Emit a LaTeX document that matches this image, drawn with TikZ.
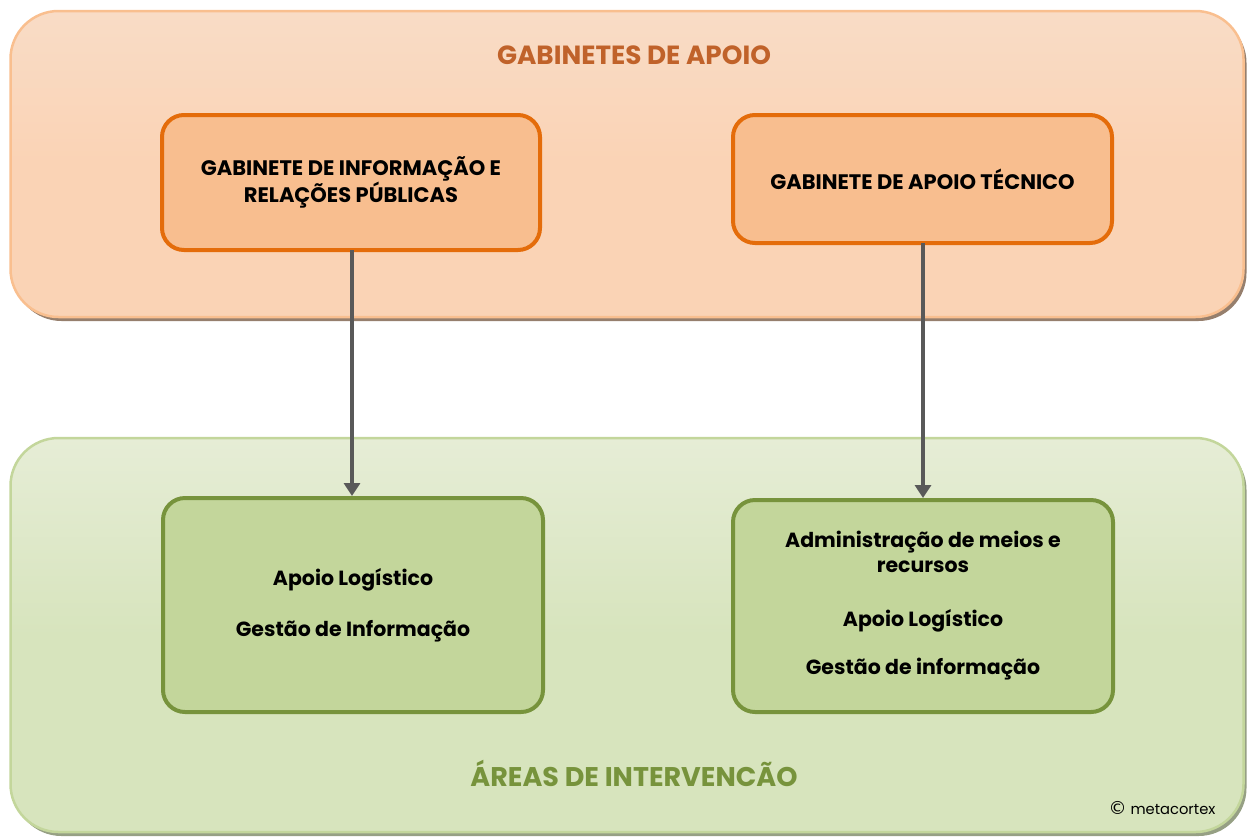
\documentclass[tikz,border=0pt]{standalone}
\usepackage{fontspec}
\setmainfont{Poppins}
\newfontfamily\symfont{DejaVu Sans}
\usetikzlibrary{arrows.meta,shadows}
\definecolor{peachbg}{HTML}{FAD3B5}
\definecolor{peachtop}{HTML}{F9DCC6}
\definecolor{peachline}{HTML}{F9BF8F}
\definecolor{orangefill}{HTML}{F8BE8F}
\definecolor{orangeline}{HTML}{E46C0A}
\definecolor{greenbg}{HTML}{D7E4BD}
\definecolor{greentop}{HTML}{E6EDD6}
\definecolor{greenline}{HTML}{C3D69B}
\definecolor{greenfill}{HTML}{C3D69B}
\definecolor{greendark}{HTML}{77933C}
\definecolor{titleorange}{HTML}{C0622A}
\definecolor{arrowgray}{HTML}{595959}
\tikzset{
  bigpanel/.style={rectangle, rounded corners=48pt, line width=2.5pt, inner sep=0pt},
  orangebox/.style={rectangle, rounded corners=22pt, draw=orangeline, fill=orangefill, line width=4pt, inner sep=0pt, align=center, font=\bfseries\fontsize{21}{24}\selectfont},
  greenbox/.style={rectangle, rounded corners=22pt, draw=greendark, fill=greenfill, line width=4pt, inner sep=0pt, align=center, font=\bfseries\fontsize{20.5}{25}\selectfont},
  conn/.style={draw=arrowgray, line width=4pt, -{Triangle[length=13pt,width=16pt]}},
}
\begin{document}
\begin{tikzpicture}[x=1pt,y=-1pt]
\useasboundingbox (0,0) rectangle (1247,839);
% top panel
\node[bigpanel, draw=peachline, top color=peachtop, bottom color=peachbg, middle color=peachbg,
      drop shadow={shadow xshift=3pt, shadow yshift=-4pt, fill=black!40!peachbg, opacity=1},
      minimum width=1233pt, minimum height=306pt] (top) at (627,164) {};
% bottom panel
\node[bigpanel, draw=greenline, top color=greentop, bottom color=greenbg, middle color=greenbg,
      drop shadow={shadow xshift=3pt, shadow yshift=-4pt, fill=black!30!greenbg, opacity=1},
      minimum width=1233pt, minimum height=394pt] (bottom) at (627,635) {};
% titles
\node[font=\bfseries\fontsize{26.3}{28}\selectfont, text=titleorange] (title1) at (634,55) {GABINETES DE APOIO};
\node[font=\bfseries\fontsize{27}{30}\selectfont, text=greendark] (title2) at (634,773) {ÁREAS DE INTERVENCÃO};
% boxes
\node[orangebox, minimum width=378pt, minimum height=135pt] (b1) at (351,182.5) {GABINETE DE INFORMAÇÃO E\\RELAÇÕES PÚBLICAS};
\node[orangebox, minimum width=379pt, minimum height=128pt] (b2) at (922.5,179) {GABINETE DE APOIO TÉCNICO};
\node[greenbox, minimum width=380pt, minimum height=214pt] (b3) at (353,605) {Apoio Logístico\\[26pt]Gestão de Informação};
\node[greenbox, minimum width=380pt, minimum height=212pt] (b4) at (923,606) {Administração de meios e\\recursos\\[29pt]Apoio Logístico\\[23pt]Gestão de informação};
% connectors
\coordinate (a1) at (352,250);
\coordinate (a2) at (923,243);
\draw[conn] (a1) -- (a1 |- b3.north);
\draw[conn] (a2) -- (a2 |- b4.north);
% copyright
\node[font=\fontsize{14.7}{16}\selectfont] (copy) at (1162,808) {{\symfont\fontsize{18}{16}\selectfont ©} metacortex};
\end{tikzpicture}
\end{document}
